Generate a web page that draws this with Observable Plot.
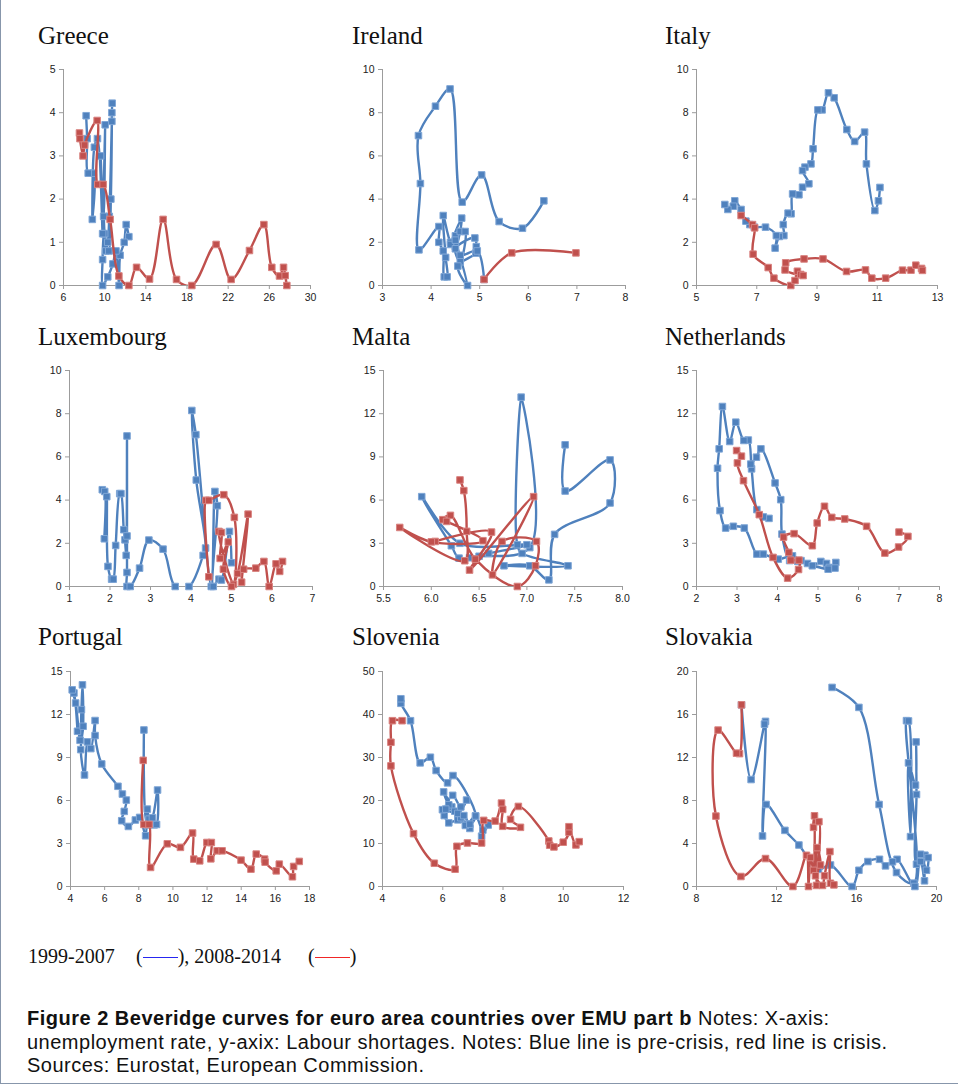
<!DOCTYPE html>
<html><head><meta charset="utf-8">
<script src="https://cdn.jsdelivr.net/npm/d3@7"></script>
<script src="https://cdn.jsdelivr.net/npm/@observablehq/plot@0.6"></script>
<style>
html,body{margin:0;padding:0;background:#fff;}
#page{position:relative;width:958px;height:1088px;overflow:hidden;background:#fff;}
.frame{position:absolute;left:0;top:-2px;width:958px;height:1086px;border-left:1px solid #8796ab;border-bottom:1px solid #8796ab;box-sizing:border-box;}
.title{position:absolute;font-family:"Liberation Serif","DejaVu Serif",serif;font-size:25px;line-height:25px;color:#111;white-space:nowrap;}
.panel{position:absolute;}
.leg{position:absolute;font-family:"Liberation Serif","DejaVu Serif",serif;font-size:20px;line-height:20px;color:#111;white-space:nowrap;}
.dash{display:inline-block;width:35px;height:1.6px;vertical-align:middle;position:relative;top:-1px;}
.capline{position:absolute;left:27px;font-family:"Liberation Sans",Arial,sans-serif;font-size:20px;letter-spacing:0.5px;line-height:21px;color:#111;white-space:nowrap;}
</style></head><body>
<div id="page"><div class="frame"></div></div>
<script>
// ---------- data ----------
const countries = ["Greece","Ireland","Italy","Luxembourg","Malta","Netherlands","Portugal","Slovenia","Slovakia"];
const periodLabels = ["1999-2007","2008-2014"];

const greecePre = [[12.35,1.13],[12.09,1.41],[11.9,1.0],[11.5,0.7],[11.4,0.0],[11.1,0.8],[10.8,0.5],[10.3,0.2],[9.8,0.0],[9.8,0.6],[9.9,1.2],[10.1,0.8],[10.3,1.0],[10.45,1.6],[10.73,4.22],[10.7,4.0],[10.7,3.8],[10.6,2.0],[10.4,0.8],[10.0,1.2],[10.05,3.72],[9.9,1.6],[9.6,3.0],[9.8,1.2],[9.3,3.4],[9.0,3.2],[8.8,1.53],[8.9,2.6],[8.4,2.6],[8.3,3.4],[8.2,3.93]];
const greecePost = [[7.55,3.53],[7.6,3.4],[7.9,3.0],[8.05,3.25],[9.27,3.82],[9.33,2.34],[9.85,2.34],[10.53,1.53],[11.38,0.22],[12.35,0],[13.1,0.42],[14.36,0.15],[15.68,1.53],[16.98,0.14],[18.47,0],[20.83,0.95],[22.29,0.14],[24.07,0.81],[25.47,1.41],[26.24,0.42],[26.99,0.22],[27.38,0.42],[27.54,0.23],[27.7,0]];

const irelandPre = [[6.32,3.92],[5.88,2.65],[5.4,2.96],[5.04,5.12],[4.64,3.86],[4.39,9.1],[4.09,8.3],[3.74,6.94],[3.78,4.72],[3.75,1.65],[4.16,2.73],[4.16,2.0],[4.25,1.6],[4.27,0.4],[4.33,0.4],[4.3,1.3],[4.25,3.24],[4.4,2.0],[4.5,1.8],[4.63,3.12],[4.4,1.9],[4.5,2.3],[4.6,2.5],[4.7,2.5],[4.6,1.1],[4.5,1.7],[4.9,2.2],[4.93,1.8],[4.92,1.5],[4.55,0.9],[4.75,0],[4.5,2.1],[4.6,1.4],[4.95,1.6],[5.09,0.28]];
const irelandPost = [[5.09,0.28],[5.66,1.51],[6.98,1.51]];

const italyPre = [[11.09,4.54],[11.04,3.92],[10.92,3.47],[10.64,5.63],[10.58,7.1],[10.25,6.67],[9.99,7.22],[9.57,8.69],[9.38,8.92],[9.17,8.13],[9.03,8.13],[8.87,6.33],[8.8,5.63],[8.6,5.48],[8.52,5.32],[8.73,4.71],[8.52,4.55],[8.4,4.2],[8.19,4.24],[8.14,3.32],[8.04,3.35],[7.88,2.82],[7.9,2.31],[7.75,2.27],[7.61,1.73],[7.65,2.31],[7.29,2.7],[6.92,2.7],[6.77,2.82],[6.64,2.98],[6.48,3.52],[6.27,3.92],[6.22,3.67],[6.04,3.52],[5.94,3.75]];
const italyPost = [[6.48,3.24],[6.86,2.82],[6.93,2.67],[6.88,1.45],[7.38,0.83],[7.57,0.34],[8.13,0],[8.27,0.23],[8.35,0.66],[8.46,0.51],[8.54,0.46],[7.94,0.72],[7.96,1.05],[8.57,1.23],[9.2,1.23],[9.98,0.65],[10.61,0.72],[10.82,0.34],[11.28,0.34],[11.84,0.71],[12.12,0.71],[12.28,0.94],[12.47,0.79],[12.5,0.7]];

const luxPre = [[1.81,4.48],[1.87,4.4],[1.86,2.21],[1.92,4.16],[1.95,0.93],[2.04,0.34],[2.08,0.34],[2.14,1.9],[2.24,4.3],[2.27,4.3],[2.34,2.63],[2.37,2.16],[2.4,1.44],[2.42,6.97],[2.42,2.34],[2.42,0.65],[2.42,0],[2.5,0],[2.73,0.85],[2.96,2.15],[3.31,1.73],[3.61,0],[3.95,0],[4.3,1.44],[4.36,1.78],[4.13,4.93],[4.02,8.15],[4.12,7.03],[4.5,0],[4.59,4.4],[4.65,3.74],[4.55,0],[4.69,0.34],[4.75,0.3],[4.95,2.55],[5.0,1.1]];
const luxPost = [[4.44,0.45],[4.37,3.99],[4.44,3.99],[4.81,4.25],[5.07,3.2],[5.05,0.1],[4.69,2.55],[4.75,2.5],[4.72,1.3],[4.92,2.06],[4.8,0.8],[5.0,0.0],[5.15,0.6],[5.41,3.35],[5.25,0.2],[5.3,0.8],[5.6,0.85],[5.8,1.16],[5.93,0],[6.1,1.05],[6.19,0.7],[6.26,1.16]];

const maltaPre = [[7.4,9.84],[7.4,6.63],[7.87,8.79],[7.87,5.8],[7.29,3.62],[7.23,0.46],[7.03,1.44],[6.76,1.44],[7.43,1.44],[6.95,2.3],[6.9,2.9],[6.94,13.15],[7.03,2.7],[6.5,2.1],[6.29,1.97],[6.21,2.83],[5.9,6.24],[6.3,3.0],[7.0,2.9],[6.6,2.3],[6.4,2.0]];
const maltaPost = [[6.04,3.13],[6.63,3.78],[6.4,1.14],[7.07,6.24],[6.64,0.81],[6.74,3.13],[7.1,3.13],[7.09,1.44],[6.9,0],[6.46,1.9],[6.2,4.94],[6.12,4.64],[6.16,4.52],[6.54,3.18],[6.0,3.1],[5.67,4.1],[6.35,1.79],[6.37,3.83],[6.34,6.66],[6.3,7.4]];

const nethPre = [[3.79,4.73],[3.65,4.83],[3.49,5.34],[3.36,8.17],[3.28,10.17],[3.17,10.14],[2.97,11.41],[2.82,10.07],[2.64,12.5],[2.56,9.56],[2.52,8.21],[2.58,5.27],[2.72,4.06],[2.91,4.18],[3.18,4.06],[3.49,2.25],[3.65,2.25],[4.02,1.9],[4.37,2.13],[4.58,1.8],[4.74,1.6],[4.86,1.44],[5.07,1.74],[5.21,1.6],[5.28,1.32],[5.44,1.67],[5.42,1.28],[5.25,1.2],[4.5,1.75],[4.3,1.8],[4.11,3.64],[4.08,6.03],[3.94,7.19],[3.59,9.56],[3.48,8.98],[3.34,8.5]];
const nethPost = [[2.99,9.44],[3.11,9.05],[3.01,8.58],[3.16,7.35],[3.55,4.99],[3.89,2.02],[4.25,0.58],[4.52,1.18],[4.53,1.83],[4.33,1.83],[4.28,2.37],[4.15,3.43],[4.41,3.67],[4.86,2.83],[4.98,4.41],[5.16,5.57],[5.34,4.8],[5.66,4.69],[6.2,4.18],[6.65,2.32],[6.99,2.74],[7.22,3.48],[7.0,3.78]];

const portugalPre = [[4.41,10.83],[4.2,13.5],[4.1,13.72],[4.3,12.8],[4.56,10.2],[4.64,12.34],[4.7,14.07],[4.74,11.18],[4.6,9.55],[4.82,7.78],[4.99,10.09],[5.19,9.62],[5.44,11.58],[5.44,10.53],[5.83,8.55],[6.78,6.99],[7.04,6.45],[7.27,6.03],[7.15,5.24],[7.0,4.59],[7.39,4.19],[7.8,4.64],[8.05,4.82],[8.4,3.54],[8.5,5.4],[8.6,4.7],[8.9,4.3],[9.04,4.33],[9.1,6.73],[8.8,4.8],[8.5,4.3],[8.3,10.92]];
const portugalPost = [[8.26,8.8],[8.3,4.33],[8.6,4.33],[8.69,1.33],[9.67,2.98],[10.44,2.73],[11.15,3.73],[11.22,1.91],[11.57,1.79],[11.99,3.07],[12.25,3.07],[12.22,1.93],[12.59,2.49],[12.88,2.49],[13.99,1.84],[14.57,1.21],[14.88,2.26],[15.37,1.91],[15.4,1.7],[16.05,1.09],[16.23,1.56],[17.0,0.68],[17.07,1.4],[17.4,1.75]];

const sloveniaPre = [[7.29,11.7],[7.51,14.3],[7.33,13.1],[7.09,16.4],[6.8,14.5],[6.5,15.5],[6.2,14.8],[6.05,16.5],[5.99,17.86],[6.3,18.5],[6.6,16.0],[6.9,13.5],[6.75,14.2],[6.4,17.5],[6.03,22.0],[6.2,19.0],[6.5,17.0],[6.79,20.1],[6.6,18.5],[6.33,21.2],[6.1,18.0],[6.7,16.5],[6.9,14.5],[7.09,16.4],[6.34,25.8],[6.16,24.1],[5.78,26.97],[5.59,30.06],[5.25,28.75],[4.93,38.56],[4.61,42.6],[4.61,43.66]];
const sloveniaPost = [[4.65,38.56],[4.33,38.56],[4.28,33.54],[4.28,28.05],[5.03,12.29],[5.72,5.41],[6.41,4.02],[6.47,9.35],[6.82,10.12],[7.29,10.12],[7.36,15.38],[7.74,15.22],[7.95,19.4],[7.99,17.93],[7.99,14.0],[8.58,13.76],[8.25,15.61],[8.51,18.62],[9.52,10.59],[9.55,9.6],[9.69,9.2],[10.0,10.3],[10.19,12.6],[10.19,13.91],[10.42,9.66],[10.53,10.43]];

const slovakiaPre = [[14.78,18.52],[16.12,16.66],[17.13,7.63],[18.0,1.3],[18.87,0.31],[18.5,15.43],[18.6,15.4],[18.7,4.64],[18.6,11.5],[18.95,9.43],[18.98,13.45],[19.0,8.56],[19.0,2.07],[19.2,2.32],[19.4,0.53],[19.42,2.91],[19.58,2.69],[19.5,1.51],[19.2,3.0],[18.92,0],[18.03,2.53],[17.8,2.3],[17.45,1.92],[17.15,2.53],[16.57,2.32],[16.12,1.51],[15.78,0],[14.7,2.0],[14.1,1.6],[13.12,3.86],[12.42,5.22],[11.48,7.63],[11.3,4.7],[11.45,15.36],[11.4,15.1],[10.73,9.95],[10.25,16.9]];
const slovakiaPost = [[10.25,16.9],[10.15,12.36],[10.0,12.4],[9.08,14.55],[8.97,6.55],[10.22,0.93],[11.45,2.6],[12.82,0],[13.5,2.9],[13.6,0],[13.7,2.7],[13.85,1.5],[13.9,6.58],[13.85,5.5],[14.12,6.03],[14.0,0.1],[14.03,3.62],[14.2,2.0],[13.95,1.0],[14.3,0.1],[14.4,1.0],[14.67,3.25],[14.7,0.3],[14.87,0.15]];

// tick values
const greeceX = [6,10,14,18,22,26,30], greeceY = [0,1,2,3,4,5];
const irelandX = [3,4,5,6,7,8], irelandY = [0,2,4,6,8,10];
const italyX = [5,7,9,11,13], italyY = [0,2,4,6,8,10];
const luxX = [1,2,3,4,5,6,7], luxY = [0,2,4,6,8,10];
const maltaX = [5.5,6.0,6.5,7.0,7.5,8.0], maltaY = [0,3,6,9,12,15];
const nethX = [2,3,4,5,6,7,8], nethY = [0,3,6,9,12,15];
const portugalX = [4,6,8,10,12,14,16,18], portugalY = [0,3,6,9,12,15];
const sloveniaX = [4,6,8,10,12], sloveniaY = [0,10,20,30,40,50];
const slovakiaX = [8,12,16,20], slovakiaY = [0,4,8,12,16,20];

const captionLines = [
  ["Figure 2 Beveridge curves for euro area countries over EMU part b", " Notes: X-axis:"],
  ["", "unemployment rate, y-axix: Labour shortages. Notes: Blue line is pre-crisis, red line is crisis."],
  ["", "Sources: Eurostat, European Commission."]
];

// ---------- layout & style ----------
const BLUE = "#4f81bd", RED = "#c0504d";
const BLUE_EDGE = "#7fa6d6", RED_EDGE = "#d98380";
const layout = [
  {name:countries[0], pre:greecePre, post:greecePost, xt:greeceX, yt:greeceY, left:63, top:69, w:247, h:216, tx:38, ty:23},
  {name:countries[1], pre:irelandPre, post:irelandPost, xt:irelandX, yt:irelandY, left:382, top:69, w:243, h:216, tx:352, ty:23},
  {name:countries[2], pre:italyPre, post:italyPost, xt:italyX, yt:italyY, left:696, top:69, w:241, h:216, tx:665, ty:23},
  {name:countries[3], pre:luxPre, post:luxPost, xt:luxX, yt:luxY, left:69, top:370, w:243, h:216, tx:38, ty:324},
  {name:countries[4], pre:maltaPre, post:maltaPost, xt:maltaX, yt:maltaY, left:383, top:370, w:239, h:216, tx:352, ty:324, fmt:d3.format(".1f")},
  {name:countries[5], pre:nethPre, post:nethPost, xt:nethX, yt:nethY, left:696, top:370, w:243, h:216, tx:665, ty:324},
  {name:countries[6], pre:portugalPre, post:portugalPost, xt:portugalX, yt:portugalY, left:70, top:671, w:239, h:215, tx:38, ty:624},
  {name:countries[7], pre:sloveniaPre, post:sloveniaPost, xt:sloveniaX, yt:sloveniaY, left:382, top:671, w:241, h:215, tx:352, ty:624},
  {name:countries[8], pre:slovakiaPre, post:slovakiaPost, xt:slovakiaX, yt:slovakiaY, left:696, top:671, w:240, h:215, tx:665, ty:624}
];

const page = document.getElementById("page");
const ML = 34, MR = 14, MT = 8, MB = 26;

function series(data, color, edge) {
  return [
    Plot.line(data, {x: d => d[0], y: d => d[1], stroke: color, strokeWidth: 2.4, curve: "catmull-rom", clip: true}),
    Plot.dot(data, {x: d => d[0], y: d => d[1], symbol: "square", r: 3.7, fill: color, stroke: edge, strokeWidth: 1})
  ];
}

for (const c of layout) {
  const t = document.createElement("div");
  t.className = "title";
  t.style.left = c.tx + "px"; t.style.top = c.ty + "px";
  t.textContent = c.name;
  page.appendChild(t);

  const xd = [c.xt[0], c.xt[c.xt.length-1]], yd = [c.yt[0], c.yt[c.yt.length-1]];
  const chart = Plot.plot({
    width: c.w + ML + MR, height: c.h + MT + MB,
    marginLeft: ML, marginRight: MR, marginTop: MT, marginBottom: MB,
    x: {domain: xd}, y: {domain: yd},
    style: {fontFamily: "'Liberation Sans', Arial, sans-serif", fontSize: "10.5px", color: "#222", background: "transparent", overflow: "visible"},
    marks: [
      Plot.ruleX([xd[0]], {stroke: "#9c9c9c", strokeWidth: 1}),
      Plot.ruleY([yd[0]], {stroke: "#9c9c9c", strokeWidth: 1}),
      Plot.axisX({ticks: c.xt, tickSize: 4, tickPadding: 4, stroke: "#9c9c9c", fill: "#222", tickFormat: c.fmt || (d => String(d)), label: null}),
      Plot.axisY({ticks: c.yt, tickSize: 4, tickPadding: 4, stroke: "#9c9c9c", fill: "#222", tickFormat: d => String(d), label: null}),
      ...series(c.pre, BLUE, BLUE_EDGE),
      ...series(c.post, RED, RED_EDGE)
    ]
  });
  const holder = document.createElement("div");
  holder.className = "panel";
  holder.style.left = (c.left - ML) + "px";
  holder.style.top = (c.top - MT) + "px";
  holder.appendChild(chart);
  page.appendChild(holder);
}

// legend
function legPiece(html, left) {
  const s = document.createElement("div");
  s.className = "leg"; s.style.left = left + "px"; s.style.top = "946px";
  s.innerHTML = html; page.appendChild(s);
}
legPiece(periodLabels[0], 28);
legPiece('(<span class="dash" style="background:#2626f0"></span>), ' + periodLabels[1], 136);
legPiece('(<span class="dash" style="background:#f02626"></span>)', 308);

// caption
const capTops = [1008, 1032, 1055];
captionLines.forEach((ln, i) => {
  const d = document.createElement("div");
  d.className = "capline"; d.style.top = capTops[i] + "px";
  if (ln[0]) { const b = document.createElement("b"); b.textContent = ln[0]; d.appendChild(b); }
  d.appendChild(document.createTextNode(ln[1]));
  page.appendChild(d);
});
</script>
</body></html>
